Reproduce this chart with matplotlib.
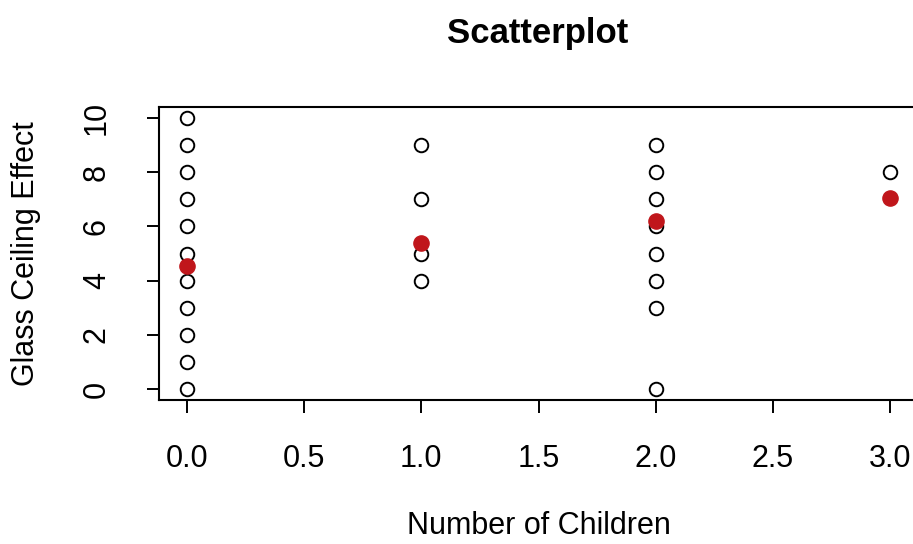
import matplotlib
matplotlib.use("Agg")
import matplotlib.pyplot as plt

plt.rcParams['font.family'] = ['Liberation Sans', 'DejaVu Sans']

# Data
children = [0]*11 + [1]*4 + [2]*8 + [3]
glass_effect = [0, 1, 2, 3, 4, 5, 6, 7, 8, 9, 10,
                4, 5, 7, 9,
                0, 3, 4, 5, 6, 7, 8, 9,
                8]
group_x = [0, 1, 2, 3]
group_means = [4.55, 5.4, 6.2, 7.05]

x_ticks = [0.0, 0.5, 1.0, 1.5, 2.0, 2.5, 3.0]
x_ticklabels = ["0.0", "0.5", "1.0", "1.5", "2.0", "2.5", "3.0"]
y_ticks = [0, 2, 4, 6, 8, 10]
y_ticklabels = ["0", "2", "4", "6", "8", "10"]

W, H = 913, 544
fig = plt.figure(figsize=(W/100, H/100), dpi=100)
fig.patch.set_facecolor('white')
left, right, top, bottom = 159, 918, 107, 400
ax = fig.add_axes([left/W, 1-bottom/H, (right-left)/W, (bottom-top)/H])

ax.scatter(children, glass_effect, s=95, facecolors='white', edgecolors='black',
           linewidths=1.4, zorder=3)
ax.scatter(group_x, group_means, s=120, color='#C0161B', edgecolors='#C0161B',
           linewidths=1, zorder=4)

ax.set_xlim(-0.12, 3.12)
ax.set_ylim(-0.4, 10.4)
ax.set_xticks(x_ticks)
ax.set_xticklabels(x_ticklabels)
ax.set_yticks(y_ticks)
ax.set_yticklabels(y_ticklabels)

for sp in ax.spines.values():
    sp.set_linewidth(1.5)
    sp.set_color('black')

ax.tick_params(axis='both', direction='out', length=9, width=1.4, colors='black',
               labelsize=22, pad=23)
ax.tick_params(axis='y', labelrotation=90, pad=25)
for lab in ax.get_yticklabels():
    lab.set_va('center')
    lab.set_ha('right')

ax.set_xlabel('Number of Children', fontsize=22)
ax.xaxis.set_label_coords(0.5, -0.38)
ax.set_ylabel('Glass Ceiling Effect', fontsize=22)
ax.yaxis.set_label_coords(-0.155, 0.5)

fig.text(538/W, 1-33/H, 'Scatterplot', fontsize=25, fontweight='bold',
         ha='center', va='center')

fig.savefig('out.png', dpi=100, facecolor='white')
